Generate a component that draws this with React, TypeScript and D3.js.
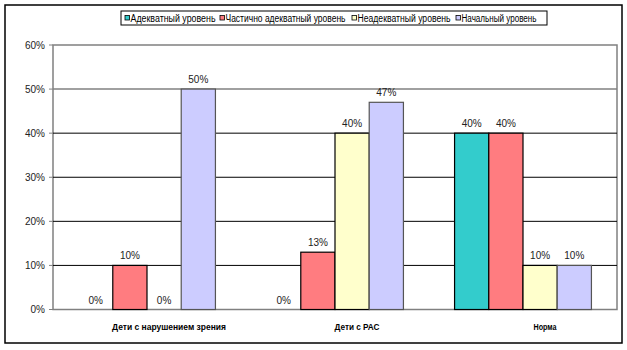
import React from "react";
import * as d3 from "d3";

const categories = ["Дети с нарушением зрения", "Дети с РАС", "Норма"];
const seriesNames = ["Адекватный уровень", "Частично адекватный уровень", "Неадекватный уровень", "Начальный уровень"];
const adequate = [0, 0, 40];
const partial = [10, 13, 40];
const inadequate = [0, 40, 10];
const initial = [50, 47, 10];
const yTicks = [0, 10, 20, 30, 40, 50, 60];
const colors = ["#33CCCC", "#FF7C80", "#FFFFCC", "#CCCCFF"];

const W = 627;
const H = 350;
const plot = { left: 53, right: 617, top: 45, bottom: 309.5 };
const font = "'Liberation Sans', Arial, sans-serif";

export default function App() {
  const series = [adequate, partial, inadequate, initial];
  const x0 = d3.scaleBand<string>().domain(categories).range([plot.left, plot.right]).padding(0);
  const groupW = x0.bandwidth() * 0.728;
  const x1 = d3.scaleBand<number>().domain(d3.range(series.length)).range([0, groupW]).padding(0);
  const y = d3.scaleLinear().domain([0, 60]).range([plot.bottom, plot.top]);

  const legendX = [125, 220, 352, 456];
  const legendLen = [85, 120, 93, 75];
  const catLen = [114, 45, 23];

  return (
    <svg width={W} height={H} style={{ position: "absolute", left: 0, top: 0, background: "#fff" }}>
      <rect x={5} y={5} width={617} height={338} fill="#fff" stroke="#000" strokeWidth={1.5} />
      {/* legend */}
      <rect x={121} y={11} width={426} height={14} fill="#fff" stroke="#000" strokeWidth={1} />
      {seriesNames.map((n, i) => (
        <g key={n}>
          <rect x={legendX[i]} y={15.5} width={4.5} height={4.5} fill={colors[i]} stroke="#000" strokeWidth={0.8} />
          <text x={legendX[i] + 5.5} y={21.5} fontSize={10} fontFamily={font} fill="#000" textLength={legendLen[i]} lengthAdjust="spacingAndGlyphs">{n}</text>
        </g>
      ))}
      {/* plot area */}
      <rect x={plot.left} y={plot.top} width={plot.right - plot.left} height={plot.bottom - plot.top} fill="#fff" stroke="#808080" strokeWidth={1.5} />
      {yTicks.filter((t) => t > 0 && t < 60).map((t) => (
        <line key={t} x1={plot.left} x2={plot.right} y1={y(t)} y2={y(t)} stroke={t === 50 ? "#808080" : "#000"} strokeWidth={t === 50 ? 1.5 : 1} />
      ))}
      {yTicks.map((t) => (
        <g key={"t" + t}>
          <line x1={plot.left - 4} x2={plot.left} y1={y(t)} y2={y(t)} stroke="#808080" strokeWidth={1} />
          <text x={45} y={y(t) + 3.5} fontSize={10} fontFamily={font} textAnchor="end" fill="#222">{t}%</text>
        </g>
      ))}
      {/* bars */}
      {categories.map((c, ci) => {
        const gx = (x0(c) as number) + (x0.bandwidth() - groupW) / 2;
        return (
          <g key={c}>
            {series.map((s, si) => {
              const v = s[ci];
              const bx = gx + (x1(si) as number);
              return (
                <g key={si}>
                  {v > 0 && (
                    <rect x={bx} y={y(v)} width={x1.bandwidth()} height={y(0) - y(v)} fill={colors[si]} stroke={si === 3 ? "#555" : "#000"} strokeWidth={1.2} />
                  )}
                  <text x={bx + x1.bandwidth() / 2} y={y(v) - 6} fontSize={10} fontFamily={font} textAnchor="middle" fill="#222">{v}%</text>
                </g>
              );
            })}
            <text x={(x0(c) as number) + x0.bandwidth() / 2 + 22 - catLen[ci] / 2} y={330} fontSize={9} fontWeight="bold" fontFamily={font} fill="#000" textLength={catLen[ci]} lengthAdjust="spacingAndGlyphs">{c}</text>
          </g>
        );
      })}
    </svg>
  );
}
